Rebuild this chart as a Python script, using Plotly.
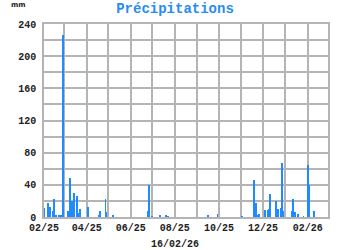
import plotly.graph_objects as go

dates = [
    "2025-02-01", "2025-02-07", "2025-02-09", "2025-02-13", "2025-02-15", "2025-02-18",
    "2025-02-22", "2025-02-24", "2025-02-27", "2025-03-06", "2025-03-09", "2025-03-10",
    "2025-03-12", "2025-03-15", "2025-03-19", "2025-03-21", "2025-03-23", "2025-04-03",
    "2025-04-18", "2025-04-19", "2025-04-27", "2025-04-28", "2025-05-07", "2025-06-25",
    "2025-06-26", "2025-06-30", "2025-07-12", "2025-07-20", "2025-07-23", "2025-09-16",
    "2025-09-29", "2025-11-02", "2025-11-18", "2025-11-19", "2025-11-21", "2025-11-23",
    "2025-11-25", "2025-12-04", "2025-12-08", "2025-12-09", "2025-12-11", "2025-12-19",
    "2025-12-22", "2025-12-26", "2025-12-27", "2025-12-29", "2026-01-10", "2026-01-12",
    "2026-01-14", "2026-01-19", "2026-01-26", "2026-02-01", "2026-02-02", "2026-02-03",
    "2026-02-09", "2026-02-10",
]
precip_mm = [
    11.6, 17, 12, 7, 23, 3,
    3, 2, 226, 7, 49, 5,
    20, 30, 26, 5, 10, 13,
    3, 8, 23, 6, 2, 8,
    40, 1, 1.5, 2, 1, 2.5,
    4, 1, 6, 46, 18, 3,
    4, 9, 9, 10, 28, 20,
    10, 11, 67, 8, 7, 22,
    6, 4, 1, 65, 11, 40,
    8, 8,
]

y_ticks = [0, 40, 80, 120, 160, 200, 240]

mono = "Liberation Mono, Courier New, monospace"
grid = "#b4b4b4"

fig = go.Figure(go.Bar(
    x=dates, y=precip_mm,
    marker=dict(color="#1e8cff", line=dict(width=0)),
    width=1.1 * 86400000,
))

fig.update_layout(
    width=350, height=250,
    margin=dict(l=44, r=22, t=24, b=33),
    paper_bgcolor="white", plot_bgcolor="white",
    showlegend=False,
    bargap=0,
    title=dict(text="<b>Précipitations</b>", x=0.5, xanchor="center",
               y=1 - 8 / 250, yanchor="middle",
               font=dict(family=mono, size=14, color="#2a8cf0")),
    annotations=[
        dict(text="<b>mm</b>", xref="paper", yref="paper", x=-35 / 284, y=1 + 19 / 193,
             xanchor="left", yanchor="middle", showarrow=False,
             font=dict(family="DejaVu Sans", size=7, color="#222")),
        dict(text="<b>16/02/26</b>", xref="paper", yref="paper", x=(175 - 44) / 284, y=-27 / 193,
             xanchor="center", yanchor="middle", showarrow=False,
             font=dict(family=mono, size=10, color="#222")),
    ],
)

fig.update_xaxes(
    type="date",
    range=["2025-02-01", "2026-03-01"],
    dtick="M1", tick0="2025-02-01", ticklabelstep=2,
    tickformat="%m/%y",
    showgrid=True, gridcolor=grid, gridwidth=1.5,
    showline=True, linecolor=grid, linewidth=1.5, mirror=True,
    ticks="", zeroline=False,
    tickfont=dict(family=mono, size=10, color="#222", weight="bold"),
)
fig.update_yaxes(
    range=[0, 240],
    tickvals=y_ticks,
    showgrid=True, gridcolor=grid, gridwidth=1.5,
    minor=dict(dtick=20, tick0=0, showgrid=True, gridcolor=grid, gridwidth=1.5),
    showline=True, linecolor=grid, linewidth=1.5, mirror=True,
    ticks="", zeroline=False, ticklabelstandoff=4,
    tickfont=dict(family=mono, size=10, color="#222", weight="bold"),
)

fig.write_html("out.html")
